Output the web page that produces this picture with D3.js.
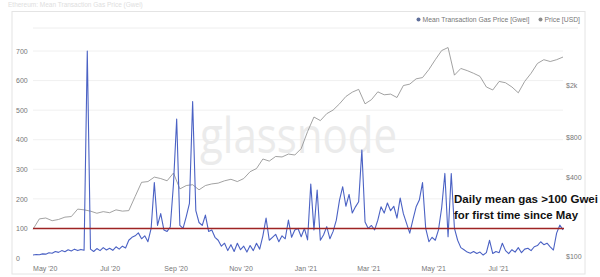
<!DOCTYPE html>
<html>
<head>
<meta charset="utf-8">
<script src="https://cdn.jsdelivr.net/npm/d3@7"></script>
<style>
  html, body { margin: 0; padding: 0; background: #fff; }
  svg { display: block; font-family: "Liberation Sans", Arial, sans-serif; }
</style>
</head>
<body>
<svg id="chart" width="600" height="277"></svg>
<script>
// gas price, one value every 3 days from 2020-04-20 [Gwei]
const gasStart = new Date(2020, 3, 20);
const gasStep = 3;
const gasValues = [
  10, 12, 11, 14, 13, 18, 16, 22, 19, 25, 21, 28, 24, 30, 25, 29, 26, 700,
  30, 22, 32, 25, 35, 27, 33, 26, 38, 30, 40, 34, 60, 70, 75, 85, 65, 75, 55, 100,
  255, 110, 150, 95, 90, 105, 250, 470, 110, 100, 140, 185, 529, 160, 120, 110,
  145, 90, 95, 70, 60, 40, 50, 25, 45, 22, 50, 28, 40, 20, 42, 25, 50, 30,
  75, 135, 60, 70, 80, 55, 75, 65, 128, 70, 95, 100,
  72, 100, 61, 250, 95, 230, 60, 78, 106, 65, 90, 128, 196, 241, 175, 215,
  152, 173, 190, 365, 122, 100, 110, 95, 128, 173, 152, 186, 160, 175, 135, 203,
  150, 117, 84, 130, 173, 196, 255, 100, 55,
  70, 60, 95, 170, 286, 72, 286, 100, 60, 35, 28, 20, 16, 22, 15, 20, 10, 18,
  60, 15, 22, 18, 50, 25, 15, 28, 20, 35, 18, 30, 33, 25, 38, 42, 55, 45, 50,
  38, 27, 84, 111, 95
];

// ETH price, one value every 6 days from 2020-04-20 [USD]
const priceStep = 6;
const priceValues = [
  160, 192, 195, 186, 190, 198, 200, 228, 225, 220, 212, 218, 214, 225, 220, 222,
  285, 365, 370, 400, 390, 375, 430, 325, 345, 350, 320, 345, 355, 360, 375, 385,
  370, 390, 440, 465, 550, 530, 575, 570, 600, 590, 660, 890, 1150, 1080, 1220,
  1300, 1450, 1650, 1780, 1870, 1450, 1560, 1790, 1700, 1720, 1620, 2000, 2050,
  2250, 2300, 2650, 3150, 3700, 3900, 2400, 2700, 2600, 2480, 2350, 1950, 1850,
  2150, 2100, 1950, 1760, 2150, 2480, 2950, 3150, 3050, 3150, 3300
];

const gasTicks = [0, 100, 200, 300, 400, 500, 600, 700];
const priceTicks = [100, 400, 800, 2000];
const priceTickLabels = ["$100", "$400", "$800", "$2k"];
const threshold = 100;

const legendItems = ["Mean Transaction Gas Price [Gwei]", "Price [USD]"];
const noteLines = ["Daily mean gas >100 Gwei", "for first time since May"];

const gas = gasValues.map((v, i) => ({ date: d3.timeDay.offset(gasStart, i * gasStep), value: v }));
const price = priceValues.map((v, i) => ({ date: d3.timeDay.offset(gasStart, i * priceStep), value: v }));

const svg = d3.select("#chart");
const plotLeft = 33, plotRight = 563;

const x = d3.scaleTime()
  .domain([gasStart, d3.timeDay.offset(gasStart, 498)])
  .range([plotLeft, plotRight]);
const yGas = d3.scaleLinear().domain([0, 700]).range([258, 51]);
const yPrice = d3.scaleLog().domain([100, 4000]).range([256, 46.1]);

// faded title at the top
svg.append("text")
  .attr("x", 8).attr("y", 6.5)
  .attr("font-size", 6.5).attr("fill", "#dedede")
  .text("Ethereum: Mean Transaction Gas Price (Gwei)");

// panel frame
svg.append("rect")
  .attr("x", 12).attr("y", 11.5)
  .attr("width", 573).attr("height", 262.5)
  .attr("fill", "none").attr("stroke", "#e4e4e4");

svg.append("line")
  .attr("x1", 33).attr("x2", 578).attr("y1", 28).attr("y2", 28)
  .attr("stroke", "#eeeeee");

// gridlines
svg.append("g").selectAll("line")
  .data(gasTicks.filter(d => d > 0))
  .join("line")
  .attr("x1", plotLeft).attr("x2", plotRight)
  .attr("y1", d => yGas(d)).attr("y2", d => yGas(d))
  .attr("stroke", "#f0f0f0");

// watermark
svg.append("text")
  .attr("x", 200).attr("y", 153)
  .attr("font-size", 50)
  .attr("font-family", "'Open Sans', sans-serif")
  .attr("fill", "#ebebeb")
  .attr("textLength", 197)
  .attr("lengthAdjust", "spacingAndGlyphs")
  .text("glassnode");

// axes
const leftAxis = svg.append("g")
  .attr("transform", "translate(16,0)")
  .call(d3.axisRight(yGas).tickValues(gasTicks).tickSize(0).tickPadding(0));
const rightAxis = svg.append("g")
  .attr("transform", "translate(566,0)")
  .call(d3.axisRight(yPrice).tickValues(priceTicks).tickSize(0).tickPadding(0)
    .tickFormat((d, i) => priceTickLabels[i]));
const bottomAxis = svg.append("g")
  .attr("transform", "translate(0,262)")
  .call(d3.axisBottom(x)
    .tickValues(d3.timeMonth.every(2).range(new Date(2020, 4, 1), new Date(2021, 7, 2)))
    .tickFormat(d3.timeFormat("%b '%y")).tickSize(0).tickPadding(4));

[leftAxis, rightAxis, bottomAxis].forEach(g => {
  g.select(".domain").remove();
  g.selectAll("text")
    .attr("font-size", 7)
    .attr("font-family", "'Liberation Sans', Arial, sans-serif")
    .attr("fill", "#777");
});

// price line
svg.append("path")
  .datum(price)
  .attr("fill", "none")
  .attr("stroke", "#8a8a8a")
  .attr("stroke-width", 0.8)
  .attr("d", d3.line().x(d => x(d.date)).y(d => yPrice(d.value)));

// gas line
svg.append("path")
  .datum(gas)
  .attr("fill", "none")
  .attr("stroke", "#4b62c4")
  .attr("stroke-width", 1.1)
  .attr("stroke-linejoin", "round")
  .attr("d", d3.line().x(d => x(d.date)).y(d => yGas(d.value)));

// 100 Gwei threshold
svg.append("line")
  .attr("x1", plotLeft).attr("x2", plotRight + 1)
  .attr("y1", yGas(threshold)).attr("y2", yGas(threshold))
  .attr("stroke", "#9e2424")
  .attr("stroke-width", 1.5);

// legend
const legendX = [418.5, 540.5];
const legendColors = ["#5f6f9a", "#8c8c8c"];
legendItems.forEach((label, i) => {
  svg.append("circle")
    .attr("cx", legendX[i]).attr("cy", 19.5).attr("r", 2)
    .attr("fill", legendColors[i]);
  svg.append("text")
    .attr("x", legendX[i] + 4).attr("y", 22)
    .attr("font-size", 6.8).attr("fill", "#777")
    .text(label);
});

// annotation
noteLines.forEach((line, i) => {
  svg.append("text")
    .attr("x", 454).attr("y", 202.5 + i * 16)
    .attr("font-size", 11.5)
    .attr("font-weight", "bold")
    .attr("fill", "#111")
    .attr("textLength", i === 0 ? 144 : 124)
    .attr("lengthAdjust", "spacingAndGlyphs")
    .text(line);
});
</script>
</body>
</html>
